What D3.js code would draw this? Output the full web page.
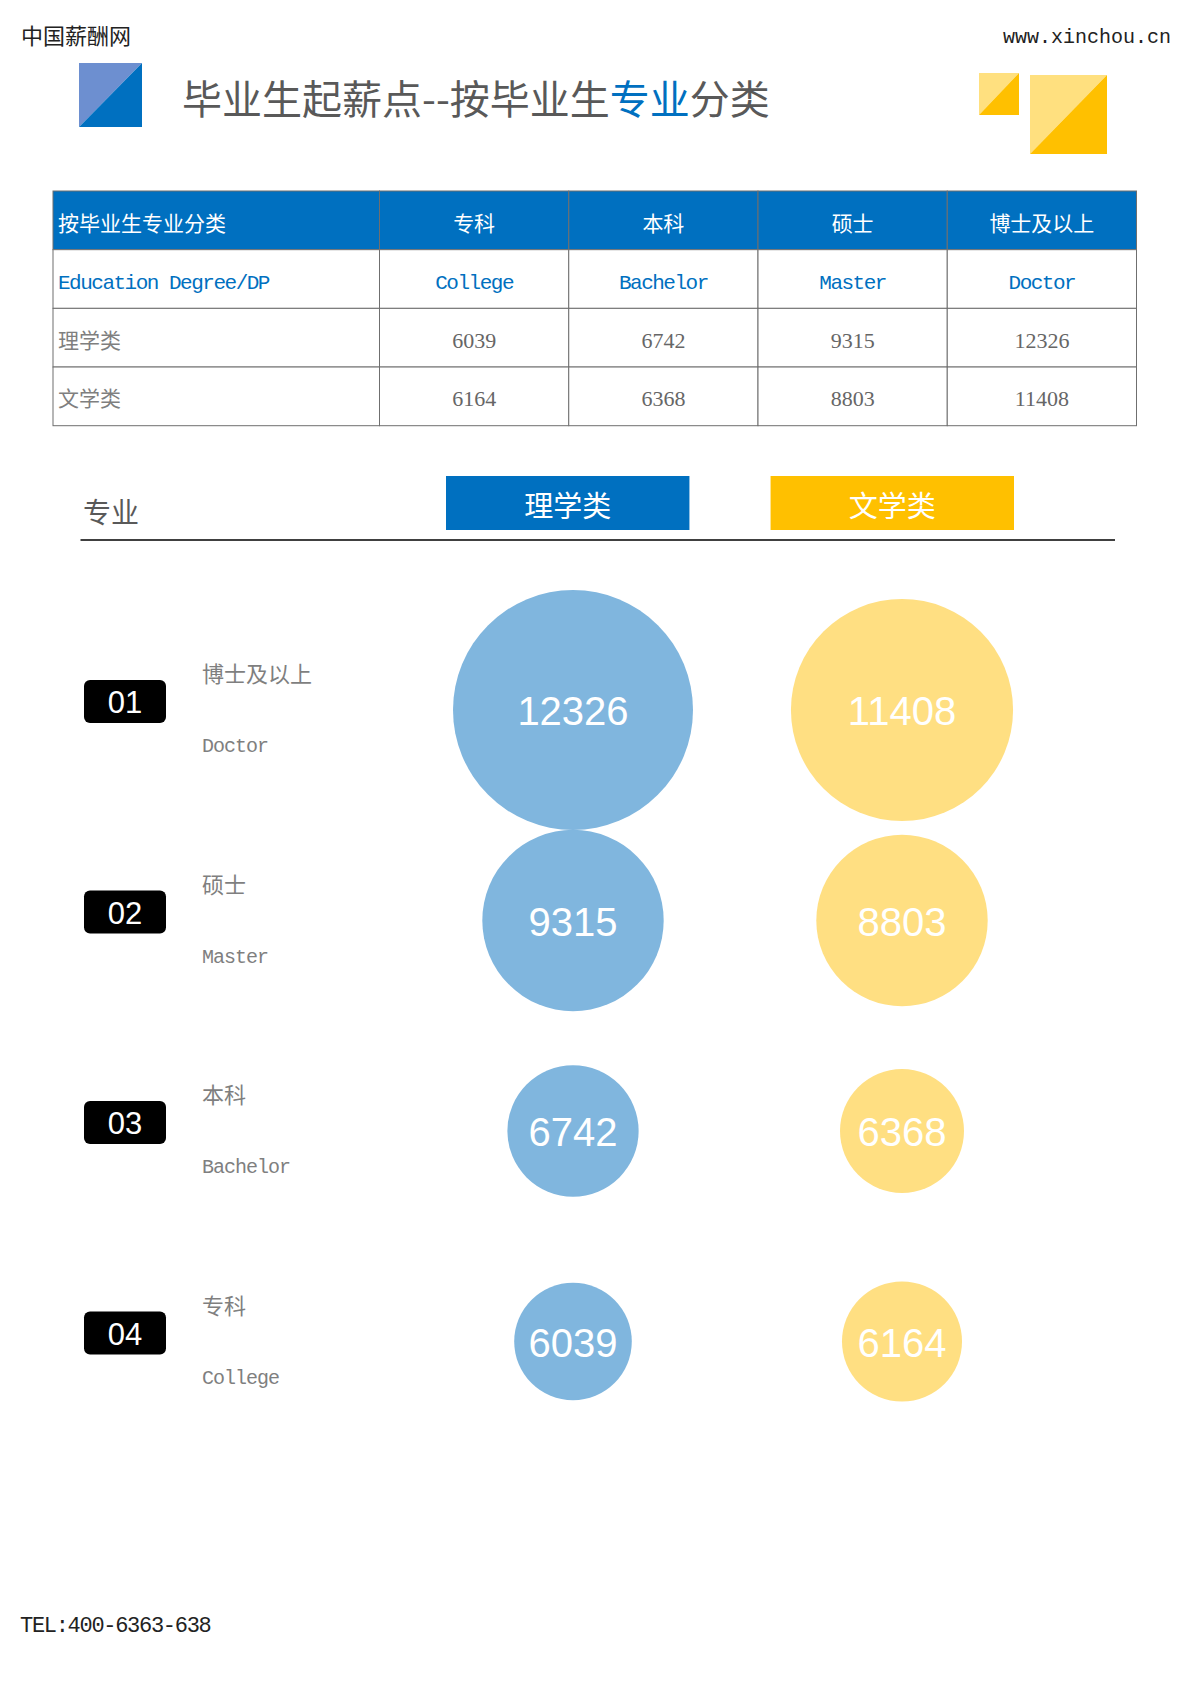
<!DOCTYPE html>
<html lang="zh">
<head>
  <meta charset="UTF-8">
  <title>毕业生起薪点--按毕业生专业分类</title>
  <style>
    body { margin: 0; background: #fff; }
    svg { display: block; }
    .cjk { font-family: 'Noto Sans CJK SC', sans-serif; }
    .mono { font-family: 'Liberation Mono', 'DejaVu Sans Mono', monospace; }
    .serif { font-family: 'Liberation Serif', 'DejaVu Serif', serif; }
    .num { font-family: 'Liberation Sans', Arial, sans-serif; }
  </style>
  <script src="https://d3js.org/d3.v7.min.js"></script>
</head>
<body>
  <div id="chart"></div>

  <script>
    // 数据
    const degrees = ["专科", "本科", "硕士", "博士及以上"];
    const degreesEn = ["College", "Bachelor", "Master", "Doctor"];
    const majors = ["理学类", "文学类"];
    const scienceSalary = [6039, 6742, 9315, 12326];
    const artsSalary = [6164, 6368, 8803, 11408];
    const colors = ["#0070c0", "#ffc000"];
    const bubbleColors = ["#80b6de", "#ffdf82"];

    const W = 1190, H = 1684;
    const svg = d3.select("#chart").append("svg")
      .attr("width", W)
      .attr("height", H);

    svg.append("rect").attr("width", W).attr("height", H).attr("fill", "#fff");

    // 顶部
    svg.append("text").attr("class", "cjk")
      .attr("x", 21).attr("y", 34)
      .attr("dominant-baseline", "central")
      .style("font-size", "22px").style("fill", "#222")
      .text("中国薪酬网");

    svg.append("text").attr("class", "mono")
      .attr("x", 1171).attr("y", 43)
      .attr("text-anchor", "end")
      .style("font-size", "20px").style("fill", "#222")
      .text("www.xinchou.cn");

    // 装饰方块 (左上浅, 右下深)
    function square(x, y, w, h, light, dark) {
      svg.append("path")
        .attr("d", `M${x},${y}H${x + w}L${x},${y + h}Z`)
        .attr("fill", light);
      svg.append("path")
        .attr("d", `M${x + w},${y}V${y + h}H${x}Z`)
        .attr("fill", dark);
    }
    square(79, 63, 63, 64, "#6d8fd0", "#0070c0");
    square(979, 73, 40, 42, "#ffe07f", "#ffc000");
    square(1030, 75, 77, 79, "#ffe07f", "#ffc000");

    const title = svg.append("text").attr("class", "cjk")
      .attr("x", 182).attr("y", 97)
      .attr("dominant-baseline", "central")
      .style("font-size", "40px").style("fill", "#595959");
    title.append("tspan").text("毕业生起薪点--按毕业生");
    title.append("tspan").style("fill", "#0070c0").text("专业");
    title.append("tspan").text("分类");

    // 表格
    const tableLeft = 53, firstColRight = 379.5, tableRight = 1136.5;
    const rowKeys = ["head", "en"].concat(majors);
    const rowY = d3.scaleBand().domain(rowKeys).range([191, 425.7]);
    const colX = d3.scaleBand().domain(degrees).range([firstColRight, tableRight]);
    const bh = rowY.bandwidth(), bw = colX.bandwidth();

    const table = svg.append("g");
    rowKeys.forEach(r => {
      const fill = r === "head" ? "#0070c0" : "#fff";
      table.append("rect")
        .attr("x", tableLeft).attr("y", rowY(r))
        .attr("width", firstColRight - tableLeft).attr("height", bh)
        .attr("fill", fill).attr("stroke", "#6f6f6f").attr("stroke-width", 1);
      degrees.forEach(d => {
        table.append("rect")
          .attr("x", colX(d)).attr("y", rowY(r))
          .attr("width", bw).attr("height", bh)
          .attr("fill", fill).attr("stroke", "#6f6f6f").attr("stroke-width", 1);
      });
    });

    const cy = r => rowY(r) + bh / 2;

    // 表头
    table.append("text").attr("class", "cjk")
      .attr("x", 58).attr("y", cy("head") + 2)
      .attr("dominant-baseline", "central")
      .style("font-size", "21px").style("fill", "#fff")
      .text("按毕业生专业分类");
    table.selectAll(".hd").data(degrees).join("text")
      .attr("class", "cjk hd")
      .attr("x", d => colX(d) + bw / 2).attr("y", cy("head") + 2)
      .attr("text-anchor", "middle").attr("dominant-baseline", "central")
      .style("font-size", "21px").style("fill", "#fff")
      .text(d => d);

    // 英文行
    table.append("text").attr("class", "mono")
      .attr("x", 58).attr("y", cy("en") + 10)
      .style("font-size", "21px").style("letter-spacing", "-1.5px").style("fill", "#0070c0")
      .text("Education Degree/DP");
    table.selectAll(".en").data(degreesEn).join("text")
      .attr("class", "mono en")
      .attr("x", (d, i) => colX(degrees[i]) + bw / 2).attr("y", cy("en") + 10)
      .attr("text-anchor", "middle")
      .style("font-size", "21px").style("letter-spacing", "-1.5px").style("fill", "#0070c0")
      .text(d => d);

    // 数据行
    const seriesRows = [scienceSalary, artsSalary];
    majors.forEach((m, k) => {
      table.append("text").attr("class", "cjk")
        .attr("x", 58).attr("y", cy(m) + 1)
        .attr("dominant-baseline", "central")
        .style("font-size", "21px").style("fill", "#7f7f7f")
        .text(m);
      table.selectAll(".v" + k).data(seriesRows[k]).join("text")
        .attr("class", "serif v" + k)
        .attr("x", (d, i) => colX(degrees[i]) + bw / 2).attr("y", cy(m) + 10)
        .attr("text-anchor", "middle")
        .style("font-size", "22px").style("fill", "#666")
        .text(d => d);
    });

    // 图例标题
    svg.append("text").attr("class", "cjk")
      .attr("x", 83).attr("y", 511)
      .attr("dominant-baseline", "central")
      .style("font-size", "28px").style("fill", "#595959")
      .text("专业");

    const legendX = d3.scaleBand().domain(majors).range([446, 1014]).paddingInner(0.25);
    const legend = svg.append("g").selectAll("g").data(majors).join("g");
    legend.append("rect")
      .attr("x", d => legendX(d)).attr("y", 476)
      .attr("width", legendX.bandwidth()).attr("height", 54)
      .attr("fill", (d, i) => colors[i]);
    legend.append("text").attr("class", "cjk")
      .attr("x", d => legendX(d) + legendX.bandwidth() / 2).attr("y", 504)
      .attr("text-anchor", "middle").attr("dominant-baseline", "central")
      .style("font-size", "29px").style("fill", "#fff")
      .text(d => d);

    svg.append("line")
      .attr("x1", 80.5).attr("x2", 1115).attr("y1", 540).attr("y2", 540)
      .attr("stroke", "#000").attr("stroke-width", 1.5);

    // 气泡 (博士在上)
    const order = d3.range(degrees.length).reverse();
    const bubbleY = d3.scalePoint().domain(order.map(i => degrees[i])).range([710, 1341.5]);
    const bubbleX = d3.scalePoint().domain(majors).range([573, 902]);
    const allValues = scienceSalary.concat(artsSalary);
    const r = d3.scaleLinear().domain([0, d3.max(allValues)]).range([0, 120]);

    const rows = svg.append("g").selectAll("g").data(order).join("g")
      .attr("transform", i => `translate(0,${bubbleY(degrees[i])})`);

    rows.append("rect")
      .attr("x", 84).attr("y", -30)
      .attr("width", 82).attr("height", 43)
      .attr("rx", 6)
      .attr("fill", "#000");
    rows.append("text").attr("class", "num")
      .attr("x", 125).attr("y", 3)
      .attr("text-anchor", "middle")
      .style("font-size", "31px").style("fill", "#fff")
      .text((i, k) => d3.format("02")(k + 1));

    rows.append("text").attr("class", "cjk")
      .attr("x", 202).attr("y", -38)
      .attr("dominant-baseline", "central")
      .style("font-size", "22px").style("fill", "#7f7f7f")
      .text(i => degrees[i]);
    rows.append("text").attr("class", "mono")
      .attr("x", 202).attr("y", 42)
      .style("font-size", "20px").style("letter-spacing", "-1px").style("fill", "#7f7f7f")
      .text(i => degreesEn[i]);

    majors.forEach((m, k) => {
      rows.append("circle")
        .attr("cx", bubbleX(m)).attr("cy", 0)
        .attr("r", i => r(seriesRows[k][i]))
        .attr("fill", bubbleColors[k]);
      rows.append("text").attr("class", "num")
        .attr("x", bubbleX(m)).attr("y", 15)
        .attr("text-anchor", "middle")
        .style("font-size", "40px").style("fill", "#fff")
        .text(i => seriesRows[k][i]);
    });

    // 底部
    svg.append("text").attr("class", "mono")
      .attr("x", 20).attr("y", 1632)
      .style("font-size", "22px").style("letter-spacing", "-1.3px").style("fill", "#222")
      .text("TEL:400-6363-638");
  </script>
</body>
</html>
